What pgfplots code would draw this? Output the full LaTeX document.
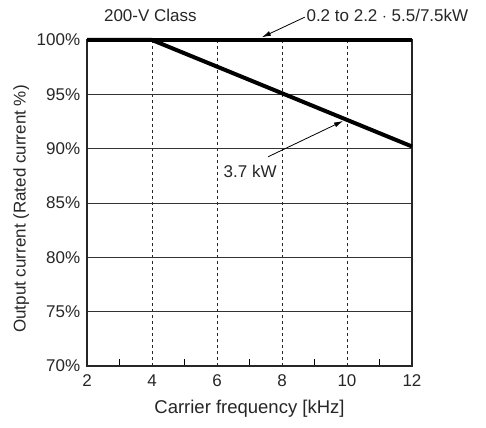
\documentclass[border=0pt]{standalone}
\usepackage{pgfplots}
\pgfplotsset{compat=1.18}
\usepackage{fontspec}
\setmainfont{Liberation Sans}
\usetikzlibrary{arrows.meta}

\begin{document}
\fontsize{17bp}{20bp}\selectfont
\begin{tikzpicture}
\begin{axis}[
    scale only axis,
    width=325bp, height=326bp,
    xmin=2, xmax=12, ymin=70, ymax=100,
    clip=false,
    axis line style={line width=2bp, black!85},
    xtick={2,4,...,12},
    xticklabels={2,4,6,8,10,12},
    minor xtick={3,5,...,11},
    ytick={70,75,...,100},
    yticklabels={70\%,75\%,80\%,85\%,90\%,95\%,100\%},
    major tick length=0pt,
    minor tick length=7bp,
    tick pos=bottom,
    ytick pos=left,
    tick align=inside,
    minor tick style={line width=1bp, black},
    xmajorgrids, ymajorgrids,
    x grid style={dashed, line width=0.7bp, black!85},
    y grid style={solid, line width=0.9bp, black!80},
    xticklabel style={yshift=-3bp},
    yticklabel style={xshift=-1bp},
    xlabel={Carrier frequency [kHz]},
    ylabel={Output current (Rated current \%)},
    xlabel style={yshift=-2bp, font=\fontsize{18.5bp}{21bp}\selectfont},
    ylabel style={yshift=-4bp, xshift=-6bp},
    every tick label/.append style={text=black!85},
    label style={text=black!85},
]
% 0.2 to 2.2 / 5.5/7.5 kW
\addplot[line width=4bp, black] coordinates {(2,100) (12,100)};
% 3.7 kW
\addplot[line width=4bp, black] coordinates {(2,100) (4,100) (12,90.2)};

\node[anchor=base, text=black!85] at (axis cs:3.95,101.7) {200-V Class};
\node[anchor=base west, text=black!85, inner sep=0pt] at (axis cs:8.75,101.7) {0.2 to 2.2 $\cdot$ 5.5/7.5kW};
\draw[-{Latex[length=9bp,width=5bp]}, line width=0.8bp] (axis cs:8.7,102.1) -- (axis cs:7.38,100.25);

\node[text=black!85] at (axis cs:7.02,87.9) {3.7 kW};
\draw[-{Latex[length=9bp,width=5bp]}, line width=0.8bp] (axis cs:7.57,89.25) -- (axis cs:9.88,92.55);

\coordinate (bl) at (rel axis cs:-0.2677,-0.1902);
\coordinate (tr) at (rel axis cs:1.2277,1.1227);
\end{axis}
\pgfresetboundingbox
\path[use as bounding box] (bl) rectangle (tr);
\end{tikzpicture}
\end{document}
